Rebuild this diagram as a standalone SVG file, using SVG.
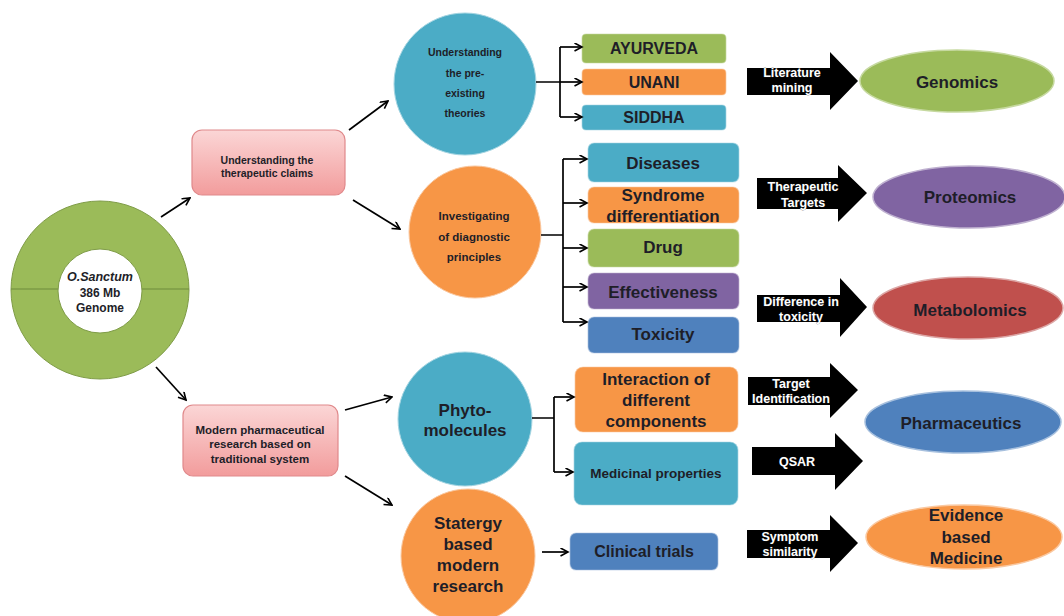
<svg xmlns="http://www.w3.org/2000/svg" width="1064" height="616" viewBox="0 0 1064 616">
<defs>
<linearGradient id="pink" x1="0" y1="0" x2="0" y2="1">
<stop offset="0" stop-color="#fbd6d6"/>
<stop offset="1" stop-color="#f29c9c"/>
</linearGradient>
<marker id="ah" markerWidth="10" markerHeight="10" refX="8.5" refY="4.5" orient="auto" markerUnits="userSpaceOnUse">
<path d="M1,0.5 L8.5,4.5 L1,8.5" fill="none" stroke="#000" stroke-width="1.6"/>
</marker>
</defs>
<style>
text{font-family:"Liberation Sans",Arial,sans-serif;font-weight:bold;text-anchor:middle;fill:#1e1e28}
.pink{fill:url(#pink);stroke:#e0898b;stroke-width:1.2}
.box{stroke-width:1.2;stroke-opacity:0.55}
.g{fill:#9bbb59;stroke:#c6d9a0}
.o{fill:#f79646;stroke:#fac8a0}
.t{fill:#4bacc6;stroke:#a5d5e2}
.p{fill:#8064a2;stroke:#bfb1d0}
.b{fill:#4f81bd;stroke:#a7c0de}
.r{fill:#c0504d;stroke:#dca6a5}
.circ{stroke-width:1}
.ell{stroke-width:1.5}
.big{font-size:17px}
.mid{font-size:16px}
.sm{font-size:10.5px}
.sm2{font-size:11.5px}
.wt{font-size:12.5px;fill:#fff;stroke:#333;stroke-width:0.4;paint-order:stroke}
.blk{fill:#000}
.con{fill:none;stroke:#000;stroke-width:1.7}
</style>

<g id="genome">
<circle cx="100" cy="290" r="89" fill="#9bbb59" stroke="#7f9c48" stroke-width="1"/>
<line x1="11" y1="289" x2="189" y2="289" stroke="#6f8c3c" stroke-width="1.2"/>
<circle cx="100" cy="291" r="42" fill="#fff" stroke="#7f9c48" stroke-width="1"/>
<text x="100" y="281" font-size="12.5" font-style="italic" fill="#333">O.Sanctum</text>
<text x="100" y="297" font-size="12" fill="#333">386 Mb</text>
<text x="100" y="312" font-size="12" fill="#333">Genome</text>
</g>

<g id="claims">
<rect class="pink" x="192" y="130" width="153" height="65" rx="10"/>
<text class="sm" x="267" y="164">Understanding the</text>
<text class="sm" x="267" y="177">therapeutic claims</text>
</g>

<g id="modern">
<rect class="pink" x="183" y="405" width="155" height="71" rx="10"/>
<text class="sm2" x="260" y="434">Modern pharmaceutical</text>
<text class="sm2" x="260" y="448">research based on</text>
<text class="sm2" x="260" y="463">traditional system</text>
</g>

<g id="theories">
<circle class="t circ" cx="465" cy="84" r="71"/>
<text class="sm" x="465" y="56">Understanding</text>
<text class="sm" x="465" y="77">the pre-</text>
<text class="sm" x="465" y="97">existing</text>
<text class="sm" x="465" y="117">theories</text>
</g>

<g id="diagnostic">
<circle class="o circ" cx="475" cy="232" r="66"/>
<text class="sm2" x="474" y="220">Investigating</text>
<text class="sm2" x="474" y="241">of diagnostic</text>
<text class="sm2" x="474" y="261">principles</text>
</g>

<g id="phyto">
<circle class="t circ" cx="465" cy="419" r="67"/>
<text class="big" x="465" y="416">Phyto-</text>
<text class="big" x="465" y="436">molecules</text>
</g>

<g id="strategy">
<circle class="o circ" cx="468" cy="556" r="67"/>
<text class="big" x="468" y="529">Statergy</text>
<text class="big" x="468" y="550">based</text>
<text class="big" x="468" y="571">modern</text>
<text class="big" x="468" y="592">research</text>
</g>

<g id="ayurveda"><rect class="box g" x="582" y="34" width="144" height="29" rx="4"/><text class="mid" x="654" y="54">AYURVEDA</text></g>
<g id="unani"><rect class="box o" x="582" y="69" width="144" height="26" rx="4"/><text class="mid" x="654" y="88">UNANI</text></g>
<g id="siddha"><rect class="box t" x="582" y="105" width="144" height="25" rx="4"/><text class="mid" x="654" y="123">SIDDHA</text></g>

<g id="diseases"><rect class="box t" x="588" y="143" width="151" height="39" rx="6"/><text class="big" x="663" y="169">Diseases</text></g>
<g id="syndrome"><rect class="box o" x="588" y="187" width="151" height="36" rx="6"/><text class="big" x="663" y="201">Syndrome</text><text class="big" x="663" y="222">differentiation</text></g>
<g id="drug"><rect class="box g" x="588" y="229" width="151" height="38" rx="6"/><text class="big" x="663" y="253">Drug</text></g>
<g id="effectiveness"><rect class="box p" x="588" y="273" width="151" height="36" rx="6"/><text class="big" x="663" y="298">Effectiveness</text></g>
<g id="toxicity"><rect class="box b" x="588" y="317" width="151" height="36" rx="6"/><text class="big" x="663" y="340">Toxicity</text></g>

<g id="interaction"><rect class="box o" x="575" y="367" width="163" height="65" rx="8"/><text class="big" x="656" y="385">Interaction of</text><text class="big" x="656" y="406">different</text><text class="big" x="656" y="427">components</text></g>
<g id="medicinal"><rect class="box t" x="574" y="442" width="164" height="63" rx="8"/><text x="656" y="478" font-size="13.5">Medicinal properties</text></g>
<g id="clinical"><rect class="box b" x="570" y="533" width="148" height="37" rx="6"/><text class="mid" x="644" y="557">Clinical trials</text></g>

<g id="arrow-literature"><polygon class="blk" points="747,68 830,68 830,52 858,81 830,110 830,95 747,95"/><text class="wt" x="792" y="77">Literature</text><text class="wt" x="792" y="92">mining</text></g>
<g id="arrow-therapeutic"><polygon class="blk" points="757,178 838,178 838,165 867,193 838,222 838,209 757,209"/><text class="wt" x="803" y="191">Therapeutic</text><text class="wt" x="803" y="207">Targets</text></g>
<g id="arrow-difference"><polygon class="blk" points="757,295 840,295 840,278 867,307 840,337 840,322 757,322"/><text class="wt" x="801" y="306">Difference in</text><text class="wt" x="801" y="321">toxicity</text></g>
<g id="arrow-target"><polygon class="blk" points="748,377 830,377 830,363 858,390 830,418 830,405 748,405"/><text class="wt" x="791" y="388">Target</text><text class="wt" x="791" y="403">Identification</text></g>
<g id="arrow-qsar"><polygon class="blk" points="752,447 835,447 835,433 863,461 835,490 835,475 752,475"/><text class="wt" x="797" y="466">QSAR</text></g>
<g id="arrow-symptom"><polygon class="blk" points="747,530 830,530 830,515 858,543 830,572 830,558 747,558"/><text class="wt" x="790" y="541">Symptom</text><text class="wt" x="790" y="556">similarity</text></g>

<g id="genomics"><ellipse class="g ell" cx="957" cy="81" rx="97" ry="31"/><text class="big" x="957" y="88">Genomics</text></g>
<g id="proteomics"><ellipse class="p ell" cx="969" cy="197" rx="96" ry="31"/><text class="big" x="970" y="203">Proteomics</text></g>
<g id="metabolomics"><ellipse class="r ell" cx="968" cy="308" rx="95" ry="31"/><text class="big" x="970" y="316">Metabolomics</text></g>
<g id="pharmaceutics"><ellipse class="b ell" cx="963" cy="422" rx="98" ry="31"/><text class="big" x="961" y="429">Pharmaceutics</text></g>
<g id="evidence"><ellipse class="o ell" cx="964" cy="537" rx="98" ry="32"/><text class="big" x="966" y="521">Evidence</text><text class="big" x="966" y="543">based</text><text class="big" x="966" y="564">Medicine</text></g>

<g id="connectors">
<line class="con" x1="161" y1="217" x2="190" y2="198" marker-end="url(#ah)"/>
<line class="con" x1="349" y1="130" x2="388" y2="101" marker-end="url(#ah)"/>
<line class="con" x1="353" y1="200" x2="400" y2="229" marker-end="url(#ah)"/>
<line class="con" x1="156" y1="367" x2="186" y2="400" marker-end="url(#ah)"/>
<line class="con" x1="345" y1="410" x2="392" y2="397" marker-end="url(#ah)"/>
<line class="con" x1="345" y1="476" x2="392" y2="505" marker-end="url(#ah)"/>
<path class="con" d="M536,82 H560 M560,47 V117"/>
<line class="con" x1="560" y1="47" x2="582" y2="47" marker-end="url(#ah)"/>
<line class="con" x1="560" y1="82" x2="582" y2="82" marker-end="url(#ah)"/>
<line class="con" x1="560" y1="117" x2="582" y2="117" marker-end="url(#ah)"/>
<path class="con" d="M541,235 H563 M563,159 V322"/>
<line class="con" x1="563" y1="159" x2="587" y2="159" marker-end="url(#ah)"/>
<line class="con" x1="563" y1="203" x2="587" y2="203" marker-end="url(#ah)"/>
<line class="con" x1="563" y1="248" x2="587" y2="248" marker-end="url(#ah)"/>
<line class="con" x1="563" y1="287" x2="587" y2="287" marker-end="url(#ah)"/>
<line class="con" x1="563" y1="322" x2="587" y2="322" marker-end="url(#ah)"/>
<path class="con" d="M532,418 H554 M554,397 V472"/>
<line class="con" x1="554" y1="397" x2="574" y2="397" marker-end="url(#ah)"/>
<line class="con" x1="554" y1="472" x2="573" y2="472" marker-end="url(#ah)"/>
<line class="con" x1="542" y1="552" x2="568" y2="552" marker-end="url(#ah)"/>
</g>
</svg>
